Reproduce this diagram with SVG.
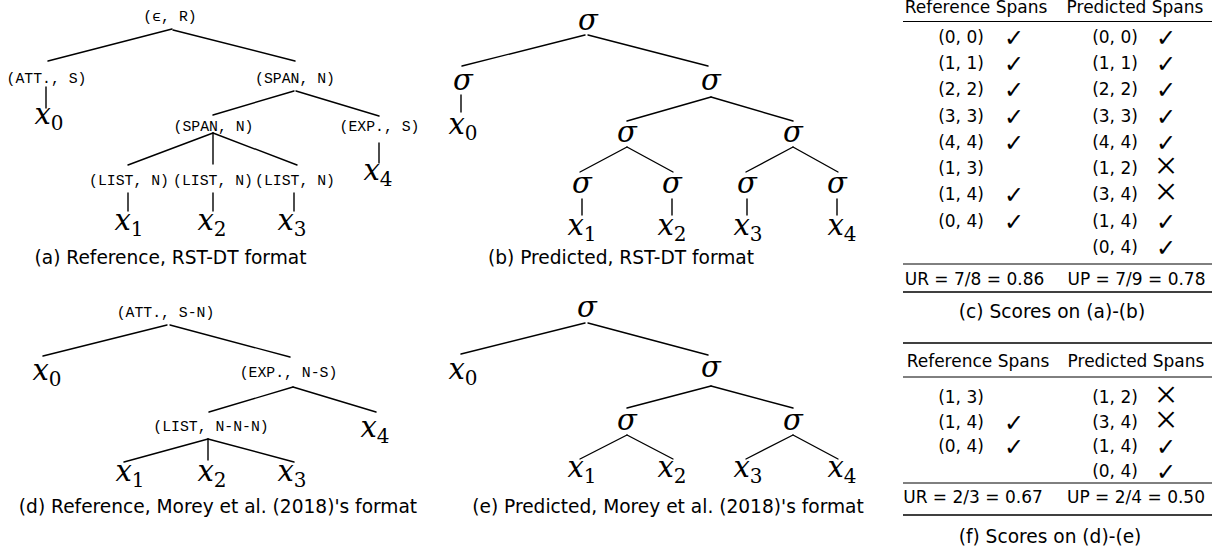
<svg xmlns="http://www.w3.org/2000/svg" width="1216" height="546" viewBox="0 0 1216 546">
<style>
text{fill:#000}
.tt{font-family:"Liberation Mono","DejaVu Sans Mono",monospace;font-size:14.8px;text-anchor:middle}
.m{font-family:"DejaVu Serif",serif;font-style:italic;font-size:29px;text-anchor:middle}
.sub{font-style:normal;font-size:20px}
.cap{font-family:"DejaVu Sans",sans-serif;font-size:18.6px;text-anchor:middle}
.tb{font-family:"DejaVu Sans",sans-serif;font-size:17px;text-anchor:middle}
.ck{font-family:"DejaVu Sans",sans-serif;font-size:24px;text-anchor:middle}
.cx{font-family:"Liberation Serif",serif;font-size:40px;text-anchor:middle}
.e line{stroke:#000;stroke-width:1.4;stroke-linecap:round}
.r1{stroke:#000;stroke-width:1}
.r2{stroke:#000;stroke-width:1.6}
</style>

<!-- Panel (a) -->
<g id="panel-a">
<g class="e" id="edges-a">
<line x1="172" y1="29" x2="48" y2="61"/>
<line x1="173" y1="30" x2="295" y2="61"/>
<line x1="46" y1="87" x2="46" y2="108"/>
<line x1="294" y1="91" x2="213" y2="115"/>
<line x1="296" y1="91" x2="379" y2="116"/>
<line x1="213" y1="133" x2="128" y2="165"/>
<line x1="213" y1="133" x2="213" y2="164"/>
<line x1="213" y1="133" x2="297" y2="165"/>
<line x1="379" y1="143" x2="379" y2="163"/>
<line x1="128" y1="193" x2="128" y2="211"/>
<line x1="213" y1="193" x2="213" y2="211"/>
<line x1="294" y1="193" x2="294" y2="211"/>
</g>
<g id="a-root"><text class="tt" x="170" y="21">(ϵ, R)</text></g>
<g id="a-att"><text class="tt" x="46.5" y="83">(ATT., S)</text></g>
<g id="a-span1"><text class="tt" x="295" y="83">(SPAN, N)</text></g>
<g id="a-span2"><text class="tt" x="213.5" y="131">(SPAN, N)</text></g>
<g id="a-exp"><text class="tt" x="379.5" y="131">(EXP., S)</text></g>
<g id="a-list1"><text class="tt" x="129" y="185">(LIST, N)</text></g>
<g id="a-list2"><text class="tt" x="213" y="185">(LIST, N)</text></g>
<g id="a-list3"><text class="tt" x="295" y="185">(LIST, N)</text></g>
<g id="a-x0"><text class="m" x="49" y="124">x<tspan class="sub" dy="6">0</tspan></text></g>
<g id="a-x4"><text class="m" x="378" y="180">x<tspan class="sub" dy="6">4</tspan></text></g>
<g id="a-x1"><text class="m" x="129" y="230">x<tspan class="sub" dy="6">1</tspan></text></g>
<g id="a-x2"><text class="m" x="212" y="230">x<tspan class="sub" dy="6">2</tspan></text></g>
<g id="a-x3"><text class="m" x="292" y="230">x<tspan class="sub" dy="6">3</tspan></text></g>
<text class="cap" x="170.5" y="264">(a) Reference, RST-DT format</text>
</g>

<!-- Panel (b) -->
<g id="panel-b">
<g class="e" id="edges-b">
<line x1="585" y1="35" x2="462" y2="66"/>
<line x1="588" y1="35" x2="708" y2="66"/>
<line x1="461" y1="95" x2="461" y2="112"/>
<line x1="711" y1="97" x2="627" y2="121"/>
<line x1="711" y1="97" x2="793" y2="121"/>
<line x1="627" y1="147" x2="580" y2="172"/>
<line x1="627" y1="147" x2="673" y2="172"/>
<line x1="793" y1="147" x2="746" y2="172"/>
<line x1="793" y1="147" x2="838" y2="172"/>
<line x1="582" y1="199" x2="582" y2="215"/>
<line x1="672" y1="199" x2="672" y2="215"/>
<line x1="747" y1="199" x2="747" y2="215"/>
<line x1="837" y1="199" x2="837" y2="215"/>
</g>
<g id="b-root"><text class="m" x="588" y="30">σ</text></g>
<g id="b-s1"><text class="m" x="463" y="90">σ</text></g>
<g id="b-s2"><text class="m" x="711" y="90">σ</text></g>
<g id="b-s3"><text class="m" x="627" y="142">σ</text></g>
<g id="b-s4"><text class="m" x="793" y="142">σ</text></g>
<g id="b-s5"><text class="m" x="582" y="193">σ</text></g>
<g id="b-s6"><text class="m" x="672" y="193">σ</text></g>
<g id="b-s7"><text class="m" x="747" y="193">σ</text></g>
<g id="b-s8"><text class="m" x="837" y="193">σ</text></g>
<g id="b-x0"><text class="m" x="463" y="134">x<tspan class="sub" dy="6">0</tspan></text></g>
<g id="b-x1"><text class="m" x="582" y="235">x<tspan class="sub" dy="6">1</tspan></text></g>
<g id="b-x2"><text class="m" x="672" y="235">x<tspan class="sub" dy="6">2</tspan></text></g>
<g id="b-x3"><text class="m" x="748" y="235">x<tspan class="sub" dy="6">3</tspan></text></g>
<g id="b-x4"><text class="m" x="842" y="235">x<tspan class="sub" dy="6">4</tspan></text></g>
<text class="cap" x="621" y="264">(b) Predicted, RST-DT format</text>
</g>

<!-- Panel (c) table -->
<g id="table-c">
<text class="tb" x="976" y="13">Reference Spans</text>
<text class="tb" x="1135" y="13">Predicted Spans</text>
<line class="r1" x1="903" y1="21.5" x2="1212" y2="21.5"/>
<g id="c-col1">
<text class="tb" x="961" y="43">(0, 0)</text>
<text class="tb" x="961" y="69">(1, 1)</text>
<text class="tb" x="961" y="95">(2, 2)</text>
<text class="tb" x="961" y="122">(3, 3)</text>
<text class="tb" x="961" y="148">(4, 4)</text>
<text class="tb" x="961" y="174">(1, 3)</text>
<text class="tb" x="961" y="200">(1, 4)</text>
<text class="tb" x="961" y="227">(0, 4)</text>
<text class="ck" x="1014" y="46">✓</text>
<text class="ck" x="1014" y="72">✓</text>
<text class="ck" x="1014" y="98">✓</text>
<text class="ck" x="1014" y="125">✓</text>
<text class="ck" x="1014" y="151">✓</text>
<text class="ck" x="1014" y="203">✓</text>
<text class="ck" x="1014" y="230">✓</text>
</g>
<g id="c-col2">
<text class="tb" x="1115" y="43">(0, 0)</text>
<text class="tb" x="1115" y="69">(1, 1)</text>
<text class="tb" x="1115" y="95">(2, 2)</text>
<text class="tb" x="1115" y="122">(3, 3)</text>
<text class="tb" x="1115" y="148">(4, 4)</text>
<text class="tb" x="1115" y="174">(1, 2)</text>
<text class="tb" x="1115" y="200">(3, 4)</text>
<text class="tb" x="1115" y="227">(1, 4)</text>
<text class="tb" x="1115" y="253">(0, 4)</text>
<text class="ck" x="1166" y="46">✓</text>
<text class="ck" x="1166" y="72">✓</text>
<text class="ck" x="1166" y="98">✓</text>
<text class="ck" x="1166" y="125">✓</text>
<text class="ck" x="1166" y="151">✓</text>
<text class="cx" x="1166" y="179">×</text>
<text class="cx" x="1166" y="205">×</text>
<text class="ck" x="1166" y="230">✓</text>
<text class="ck" x="1166" y="256">✓</text>
</g>
<line class="r1" x1="903" y1="264" x2="1212" y2="264"/>
<text class="tb" x="974.5" y="285">UR = 7/8 = 0.86</text>
<text class="tb" x="1136.5" y="285">UP = 7/9 = 0.78</text>
<line class="r2" x1="903" y1="292" x2="1212" y2="292"/>
<text class="cap" x="1052" y="318">(c) Scores on (a)-(b)</text>
</g>

<!-- Panel (d) -->
<g id="panel-d">
<g class="e" id="edges-d">
<line x1="167" y1="325" x2="43" y2="356"/>
<line x1="170" y1="325" x2="290" y2="357"/>
<line x1="293" y1="387" x2="209" y2="412"/>
<line x1="293" y1="387" x2="376" y2="412"/>
<line x1="208" y1="439" x2="124" y2="462"/>
<line x1="208" y1="439" x2="208" y2="460"/>
<line x1="208" y1="439" x2="294" y2="462"/>
</g>
<g id="d-root"><text class="tt" x="165.5" y="317">(ATT., S-N)</text></g>
<g id="d-exp"><text class="tt" x="288.5" y="377">(EXP., N-S)</text></g>
<g id="d-list"><text class="tt" x="211" y="431">(LIST, N-N-N)</text></g>
<g id="d-x0"><text class="m" x="47" y="380">x<tspan class="sub" dy="6">0</tspan></text></g>
<g id="d-x4"><text class="m" x="375" y="437">x<tspan class="sub" dy="6">4</tspan></text></g>
<g id="d-x1"><text class="m" x="130" y="481">x<tspan class="sub" dy="6">1</tspan></text></g>
<g id="d-x2"><text class="m" x="212" y="481">x<tspan class="sub" dy="6">2</tspan></text></g>
<g id="d-x3"><text class="m" x="292" y="481">x<tspan class="sub" dy="6">3</tspan></text></g>
<text class="cap" x="218" y="513">(d) Reference, Morey et al. (2018)'s format</text>
</g>

<!-- Panel (e) -->
<g id="panel-e">
<g class="e" id="edges-e">
<line x1="585" y1="323" x2="461" y2="354"/>
<line x1="588" y1="323" x2="708" y2="355"/>
<line x1="711" y1="386" x2="627" y2="408"/>
<line x1="711" y1="386" x2="793" y2="408"/>
<line x1="627" y1="435" x2="580" y2="459"/>
<line x1="627" y1="435" x2="673" y2="459"/>
<line x1="793" y1="435" x2="746" y2="459"/>
<line x1="793" y1="435" x2="838" y2="459"/>
</g>
<g id="e-root"><text class="m" x="587" y="317">σ</text></g>
<g id="e-s1"><text class="m" x="711" y="377">σ</text></g>
<g id="e-s2"><text class="m" x="627" y="430">σ</text></g>
<g id="e-s3"><text class="m" x="793" y="430">σ</text></g>
<g id="e-x0"><text class="m" x="463" y="379">x<tspan class="sub" dy="6">0</tspan></text></g>
<g id="e-x1"><text class="m" x="582" y="477">x<tspan class="sub" dy="6">1</tspan></text></g>
<g id="e-x2"><text class="m" x="672" y="477">x<tspan class="sub" dy="6">2</tspan></text></g>
<g id="e-x3"><text class="m" x="748" y="477">x<tspan class="sub" dy="6">3</tspan></text></g>
<g id="e-x4"><text class="m" x="842" y="477">x<tspan class="sub" dy="6">4</tspan></text></g>
<text class="cap" x="668" y="513">(e) Predicted, Morey et al. (2018)'s format</text>
</g>

<!-- Panel (f) table -->
<g id="table-f">
<line class="r2" x1="903" y1="343" x2="1212" y2="343"/>
<text class="tb" x="978" y="367">Reference Spans</text>
<text class="tb" x="1136" y="367">Predicted Spans</text>
<line class="r1" x1="903" y1="377" x2="1212" y2="377"/>
<g id="f-col1">
<text class="tb" x="961" y="403">(1, 3)</text>
<text class="tb" x="961" y="428">(1, 4)</text>
<text class="tb" x="961" y="452">(0, 4)</text>
<text class="ck" x="1014" y="431">✓</text>
<text class="ck" x="1014" y="455">✓</text>
</g>
<g id="f-col2">
<text class="tb" x="1115" y="403">(1, 2)</text>
<text class="tb" x="1115" y="428">(3, 4)</text>
<text class="tb" x="1115" y="452">(1, 4)</text>
<text class="tb" x="1115" y="477">(0, 4)</text>
<text class="cx" x="1166" y="408">×</text>
<text class="cx" x="1166" y="433">×</text>
<text class="ck" x="1166" y="455">✓</text>
<text class="ck" x="1166" y="480">✓</text>
</g>
<line class="r1" x1="903" y1="483" x2="1212" y2="483"/>
<text class="tb" x="973" y="503">UR = 2/3 = 0.67</text>
<text class="tb" x="1136" y="503">UP = 2/4 = 0.50</text>
<line class="r2" x1="903" y1="515" x2="1212" y2="515"/>
<text class="cap" x="1050" y="543">(f) Scores on (d)-(e)</text>
</g>
</svg>
